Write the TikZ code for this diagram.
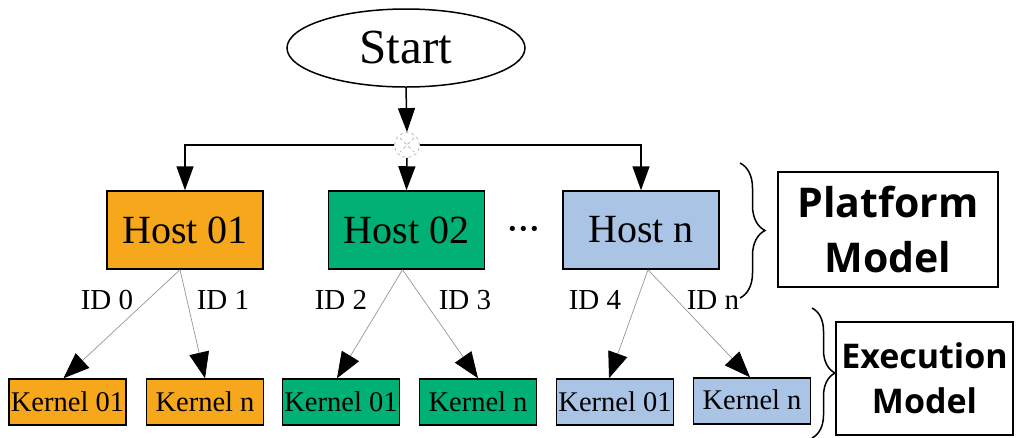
\documentclass[tikz,border=0pt]{standalone}
\usepackage{fontspec}
\setmainfont{Liberation Serif}
\newfontfamily\modelfont{Open Sans}
\usetikzlibrary{arrows.meta,shapes.geometric,decorations.pathreplacing}

\definecolor{hostorange}{RGB}{247,167,27}
\definecolor{hostgreen}{RGB}{0,176,116}
\definecolor{hostblue}{RGB}{170,196,230}
\definecolor{junctiongray}{RGB}{185,185,185}
\definecolor{edgegray}{RGB}{150,150,150}

\begin{document}
\begin{tikzpicture}[x=1pt,y=-1pt,
  startnode/.style={ellipse,draw=black,line width=1.5pt,minimum width=238pt,minimum height=78pt,inner sep=0pt,font=\fontsize{49}{52}\selectfont},
  hostbox/.style={draw=black,line width=1.5pt,minimum width=156pt,minimum height=78pt,inner sep=0pt,font=\fontsize{40}{44}\selectfont},
  kernelbox/.style={draw=black,line width=1.5pt,minimum width=117pt,minimum height=46pt,inner sep=0pt,font=\fontsize{28.5}{30}\selectfont},
  flow/.style={draw=black,line width=1.5pt,-{Triangle[length=24pt,width=17pt]}},
  idedge/.style={draw=edgegray,line width=0.7pt,-{Triangle[length=26pt,width=20pt,color=black]}},
  idlabel/.style={font=\fontsize{29}{30}\selectfont,inner sep=0pt},
  modelbox/.style={draw=black,line width=1.5pt,align=center,inner sep=0pt},
  bracket/.style={draw=black,line width=1.5pt,decorate,decoration={brace,amplitude=#1}}
]
\useasboundingbox (0,0) rectangle (1016,437);

% start node and junction
\node[startnode] (start) at (406,48) {Start};
\node[circle,draw=junctiongray,dashed,fill=white,minimum size=25pt,inner sep=0pt,line width=0.8pt] (junc) at (407,145) {};
\draw[junctiongray,dashed,line width=0.8pt,shorten <=3pt,shorten >=3pt] (junc.north west) -- (junc.south east);
\draw[junctiongray,dashed,line width=0.8pt,shorten <=3pt,shorten >=3pt] (junc.north east) -- (junc.south west);

% hosts
\node[hostbox,fill=hostorange] (h1) at (185,230) {Host 01};
\node[hostbox,fill=hostgreen] (h2) at (406.5,230) {Host 02};
\node[hostbox,fill=hostblue] (hn) at (641,230) {Host n};
\node[font=\fontsize{44}{48}\selectfont,inner sep=0pt,anchor=base] (dots) at (524,243) {·\kern-3.5pt·\kern-3.5pt·};

\draw[flow] (start.south) -- (junc.north);
\draw[flow] (junc.west) -| (h1.north);
\draw[flow] (junc.east) -| (hn.north);
\draw[flow] (junc.south) -- (h2.north);

% kernels
\node[kernelbox,fill=hostorange] (k1) at (67.5,402) {Kernel 01};
\node[kernelbox,fill=hostorange] (k2) at (205,402) {Kernel n};
\node[kernelbox,fill=hostgreen] (k3) at (341,402) {Kernel 01};
\node[kernelbox,fill=hostgreen] (k4) at (478,402) {Kernel n};
\node[kernelbox,fill=hostblue] (k5) at (615,402) {Kernel 01};
\node[kernelbox,fill=hostblue] (k6) at (752,401) {\raisebox{3pt}{Kernel n}};

\draw[idedge] ([xshift=-5pt]h1.south) -- ([xshift=-4pt]k1.north);
\draw[idedge] ([xshift=-5pt]h1.south) -- (k2.north);
\draw[idedge] ([xshift=-4pt]h2.south) -- ([xshift=-4pt]k3.north);
\draw[idedge] ([xshift=-4pt]h2.south) -- (k4.north);
\draw[idedge] ([xshift=7pt]hn.south) -- ([xshift=-6pt]k5.north);
\draw[idedge] ([xshift=7pt]hn.south) -- ([xshift=-2pt]k6.north);

\node[idlabel] (id0) at (107,300) {ID 0};
\node[idlabel] (id1) at (223,300) {ID 1};
\node[idlabel] (id2) at (341,300) {ID 2};
\node[idlabel] (id3) at (465,300) {ID 3};
\node[idlabel] (id4) at (595,300) {ID 4};
\node[idlabel] (idn) at (713,300) {ID n};

% model boxes and braces
\node[modelbox,minimum width=220pt,minimum height=115pt,font=\modelfont\bfseries\fontsize{41}{55}\selectfont] (pm) at (888,229.5) {Platform\\Model};
\node[modelbox,minimum width=177pt,minimum height=113pt,font=\modelfont\bfseries\fontsize{34}{45}\selectfont] (em) at (924.5,378.5) {Execution\\Model};

\draw[bracket=25pt] (740,163) -- (740,298);
\draw[bracket=23pt] (812,308) -- (812,438);
\end{tikzpicture}
\end{document}
